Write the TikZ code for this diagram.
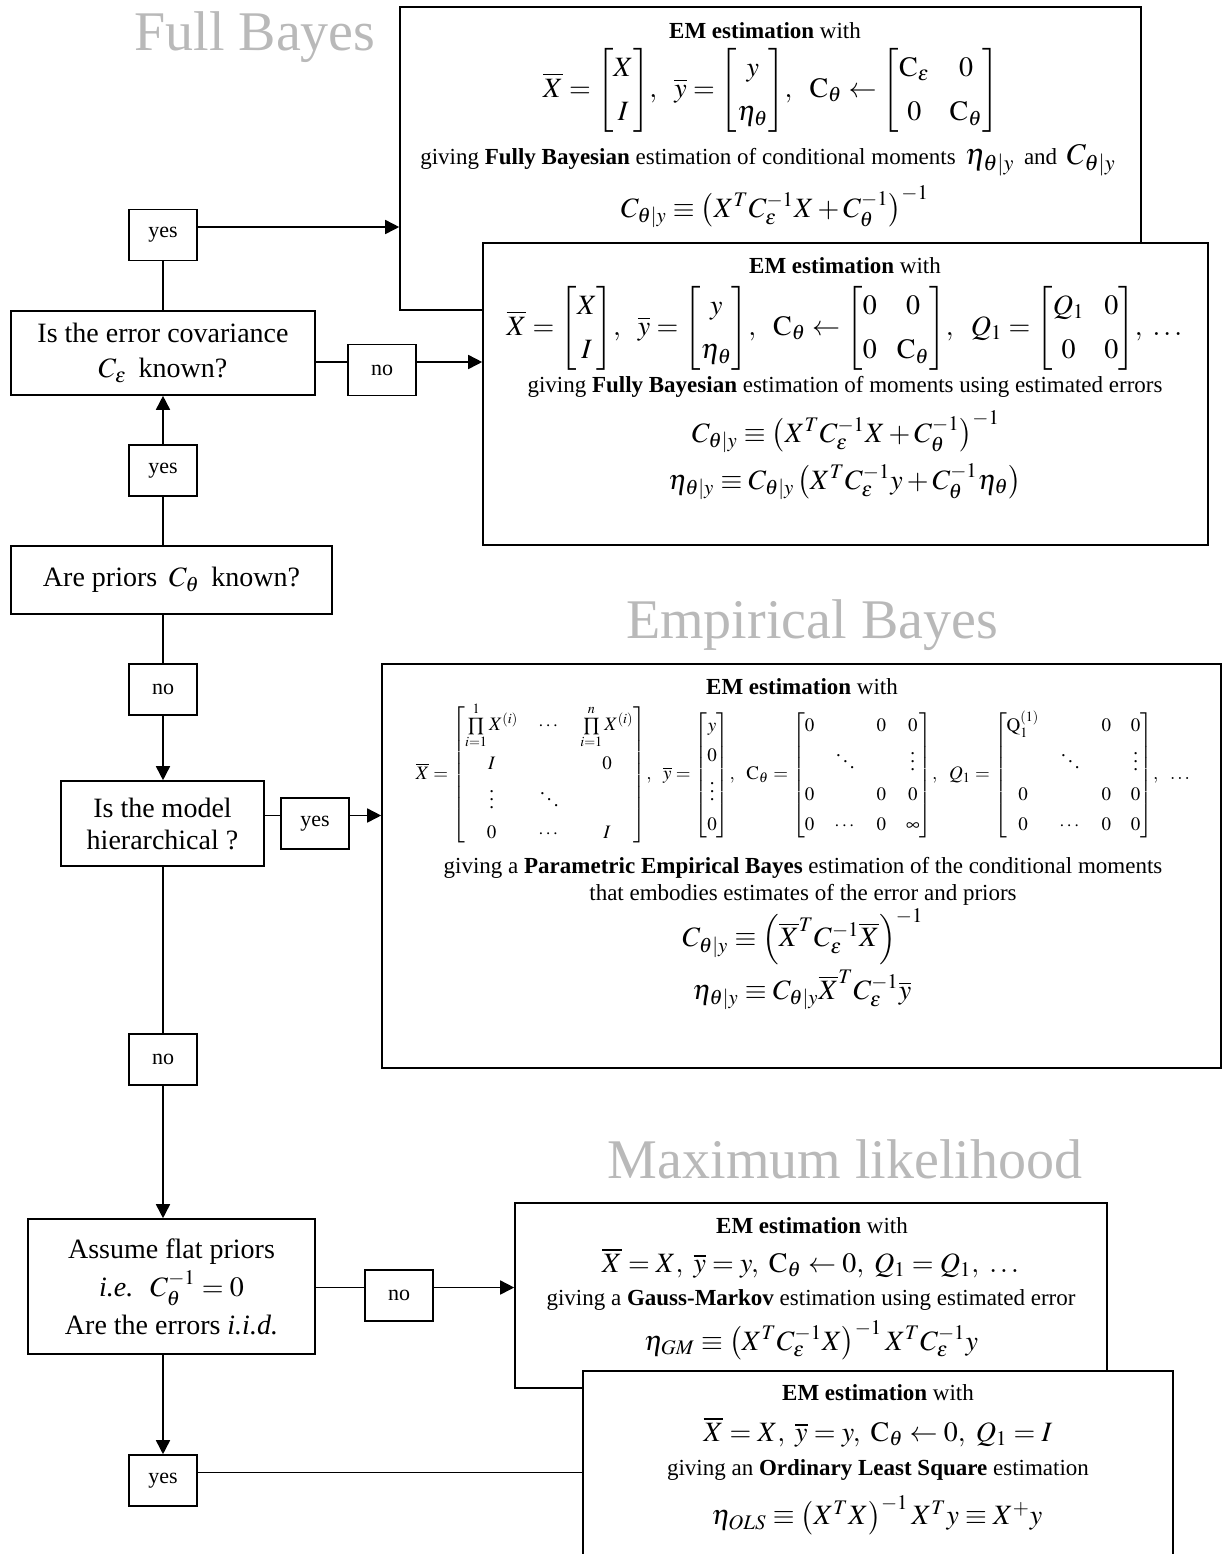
\documentclass[tikz,border=0pt]{standalone}
\usepackage{amsmath}
\usepackage{mathptmx}
\usepackage[no-math]{fontspec}
\setmainfont{Liberation Serif}
\usetikzlibrary{positioning, arrows.meta, calc, fit}
\renewcommand{\arraystretch}{1.3}

\tikzset{
  frame/.style={draw, fill=white, inner sep=0pt},
  query/.style={draw, fill=white, align=center, inner sep=0pt, font=\fontsize{14}{17.5}\selectfont},
  answer/.style={draw, fill=white, inner sep=0pt, minimum width=34pt, minimum height=25.5pt, font=\fontsize{11}{13}\selectfont},
  txt/.style={align=center, inner sep=0pt, font=\fontsize{11.5}{13.5}\selectfont},
  eq/.style={inner sep=0pt, font=\fontsize{14}{17}\selectfont},
  eqs/.style={inner sep=0pt, font=\fontsize{9.5}{11.5}\selectfont},
  title/.style={anchor=base, inner sep=0pt, text=gray!55, font=\fontsize{28}{32}\selectfont},
  arr/.style={-{Triangle[length=7pt,width=7pt]}},
}

\begin{document}
\begin{tikzpicture}[x=0.5pt, y=-0.5pt, thick]
    \useasboundingbox (0,0) rectangle (1222,1554);

    % section titles
    \node[title] (tFull) at (255,50) {Full Bayes};
    \node[title] (tEmp) at (812,638) {Empirical Bayes};
    \node[title] (tMax) at (845,1178) {Maximum likelihood};

    % questions
    \node[query, minimum width=152pt, minimum height=42pt] (qErr) at (163,353) {Is the error covariance\\ $C_\varepsilon$\, known?};
    \node[query, minimum width=160.5pt, minimum height=34pt] (qPrior) at (171.5,580) {Are priors\, $C_\theta$\, known?};
    \node[query, minimum width=101.5pt, minimum height=42.5pt, font=\fontsize{14}{16}\selectfont] (qHier) at (162.5,823.5) {Is the model\\ hierarchical ?};
    \node[query, minimum width=143.5pt, minimum height=67.5pt, font=\fontsize{14}{19}\selectfont] (qFlat) at (171.5,1286.5) {Assume flat priors\\ \textit{i.e.}\; $C_\theta^{-1}=0$\\ Are the errors \textit{i.i.d.}};

    % answers
    \node[answer] (yesA) at (163,235) {yes};
    \node[answer] (noA) at (382,370) {no};
    \node[answer] (yesB) at (163,470.5) {yes};
    \node[answer] (noB) at (163,689.5) {no};
    \node[answer] (yesC) at (315,823.5) {yes};
    \node[answer] (noC) at (163,1059.5) {no};
    \node[answer] (noD) at (399,1295.5) {no};
    \node[answer] (yesD) at (163,1480.5) {yes};

    % result boxes
    \node[frame, fit={(400,7) (1141,310)}] (fbA) {};
    \node[frame, fit={(483,243) (1208,545)}] (fbB) {};
    \node[frame, fit={(382,664) (1221,1068)}] (ebA) {};
    \node[frame, fit={(515,1203) (1107,1388)}] (mlA) {};
    \node[frame, fit={(583,1371) (1173,1562)}] (mlB) {};

    % full Bayes, known error
    \node[txt] (fbA1) at (765,31) {\textbf{EM estimation} with};
    \node[eq] (fbA2) at (771,90) {$\overline{X}=\begin{bmatrix}X\\ I\end{bmatrix}\!,\ \ \overline{y}=\begin{bmatrix}y\\ \eta_\theta\end{bmatrix}\!,\ \ \mathrm{C}_\theta\leftarrow\begin{bmatrix}\mathrm{C}_\varepsilon & 0\\ 0 & \mathrm{C}_\theta\end{bmatrix}$};
    \node[txt] (fbA3) at (768,160) {giving \textbf{Fully Bayesian} estimation of conditional moments\, {\fontsize{15}{15}\selectfont$\eta_{\theta|y}$}\, and\, {\fontsize{15}{15}\selectfont$C_{\theta|y}$}};
    \node[eq] (fbA4) at (775,207) {$C_{\theta|y}\equiv\left(X^T C_\varepsilon^{-1}X+C_\theta^{-1}\right)^{-1}$};

    % full Bayes, estimated error
    \node[txt] (fbB1) at (845,266) {\textbf{EM estimation} with};
    \node[eq] (fbB2) at (846,328) {$\overline{X}=\begin{bmatrix}X\\ I\end{bmatrix}\!,\ \ \overline{y}=\begin{bmatrix}y\\ \eta_\theta\end{bmatrix}\!,\ \ \mathrm{C}_\theta\leftarrow\begin{bmatrix}0 & 0\\ 0 & \mathrm{C}_\theta\end{bmatrix}\!,\ \ Q_1=\begin{bmatrix}Q_1 & 0\\ 0 & 0\end{bmatrix}\!,\ \dots$};
    \node[txt] (fbB3) at (845,387) {giving \textbf{Fully Bayesian} estimation of moments using estimated errors};
    \node[eq] (fbB4) at (846,432) {$C_{\theta|y}\equiv\left(X^T C_\varepsilon^{-1}X+C_\theta^{-1}\right)^{-1}$};
    \node[eq] (fbB5) at (845,482) {$\eta_{\theta|y}\equiv C_{\theta|y}\left(X^T C_\varepsilon^{-1}y+C_\theta^{-1}\eta_\theta\right)$};

    % empirical Bayes
    \node[txt] (ebA1) at (802,687) {\textbf{EM estimation} with};
    \node[eqs] (ebA2) at (804,775) {$\overline{X}=\begin{bmatrix}\prod\limits_{i=1}^{1}X^{(i)} & \cdots & \prod\limits_{i=1}^{n}X^{(i)}\\ I & & 0\\ \vdots & \ddots & \\ 0 & \cdots & I\end{bmatrix}\!,\ \ \overline{y}=\begin{bmatrix}y\\ 0\\ \vdots\\ 0\end{bmatrix}\!,\ \ \mathrm{C}_\theta=\begin{bmatrix}0 & & 0 & 0\\ & \ddots & & \vdots\\ 0 & & 0 & 0\\ 0 & \cdots & 0 & \infty\end{bmatrix}\!,\ \ Q_1=\begin{bmatrix}\mathrm{Q}_1^{(1)} & & 0 & 0\\ & \ddots & & \vdots\\ 0 & & 0 & 0\\ 0 & \cdots & 0 & 0\end{bmatrix}\!,\ \ \dots$};
    \node[txt] (ebA3) at (803,881) {giving a \textbf{Parametric Empirical Bayes} estimation of the conditional moments\\ that embodies estimates of the error and priors};
    \node[eq] (ebA4) at (803,937) {$C_{\theta|y}\equiv\Bigl(\overline{X}^T C_\varepsilon^{-1}\overline{X}\Bigr)^{-1}$};
    \node[eq] (ebA5) at (802,990) {$\eta_{\theta|y}\equiv C_{\theta|y}\overline{X}^T C_\varepsilon^{-1}\overline{y}$};

    % maximum likelihood
    \node[txt] (mlA1) at (812,1226) {\textbf{EM estimation} with};
    \node[eq] (mlA2) at (812,1263) {$\overline{X}=X,\ \overline{y}=y,\ \mathrm{C}_\theta\leftarrow0,\ Q_1=Q_1,\ \dots$};
    \node[txt] (mlA3) at (811,1300) {giving a \textbf{Gauss-Markov} estimation using estimated error};
    \node[eq] (mlA4) at (811,1340) {$\eta_{GM}\equiv\left(X^T C_\varepsilon^{-1}X\right)^{-1}X^T C_\varepsilon^{-1}y$};

    \node[txt] (mlB1) at (878,1393) {\textbf{EM estimation} with};
    \node[eq] (mlB2) at (878,1432) {$\overline{X}=X,\ \overline{y}=y,\ \mathrm{C}_\theta\leftarrow0,\ Q_1=I$};
    \node[txt] (mlB3) at (878,1470) {giving an \textbf{Ordinary Least Square} estimation};
    \node[eq] (mlB4) at (877,1515) {$\eta_{OLS}\equiv\left(X^T X\right)^{-1}X^T y\equiv X^{+}y$};

    % connectors
    \coordinate (cA) at ([yshift=4pt]yesA.east);
    \coordinate (cB) at ([yshift=4pt]noA.west);
    \coordinate (cC) at ([yshift=4pt]yesC.west);
    \coordinate (cD) at ([yshift=4pt]noD.west);
    \coordinate (cE) at ([yshift=4pt]yesD.east);

    \draw (qErr.north) -- (yesA.south);
    \draw[arr] (cA) -- (cA -| fbA.west);
    \draw (cB -| qErr.east) -- (cB);
    \draw[arr] (cB -| noA.east) -- (cB -| fbB.west);
    \draw[arr] (yesB.north) -- (yesB.north |- qErr.south);
    \draw (yesB.south) -- (yesB.south |- qPrior.north);
    \draw (noB.north) -- (noB.north |- qPrior.south);
    \draw[arr] (noB.south) -- (noB.south |- qHier.north);
    \draw (cC -| qHier.east) -- (cC);
    \draw[arr] (cC -| yesC.east) -- (cC -| ebA.west);
    \draw (noC.north) -- (noC.north |- qHier.south);
    \draw[arr] (noC.south) -- (noC.south |- qFlat.north);
    \draw (cD -| qFlat.east) -- (cD);
    \draw[arr] (cD -| noD.east) -- (cD -| mlA.west);
    \draw[arr] (yesD.north |- qFlat.south) -- (yesD.north);
    \draw (cE) -- (cE -| mlB.west);
\end{tikzpicture}
\end{document}
